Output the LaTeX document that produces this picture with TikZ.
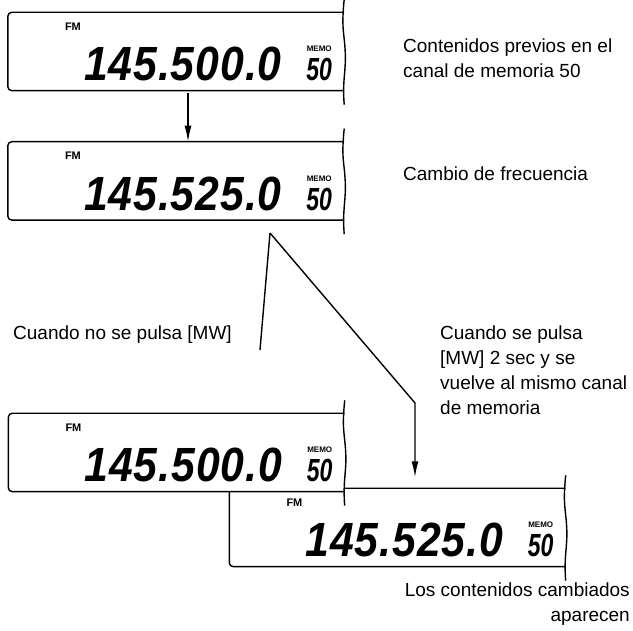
\documentclass[tikz,border=0pt]{standalone}
\usepackage{fontspec}
\setmainfont{Liberation Sans}
\newfontfamily\lcdfont{Liberation Sans}[FakeStretch=0.89, LetterSpace=2]
\newfontfamily\chanfont{Liberation Sans}[FakeStretch=0.72]
\usetikzlibrary{positioning,arrows.meta,calc}
\tikzset{
  panel/.style={rectangle, minimum width=336pt, minimum height=78pt, inner sep=0pt, fill=white},
  frame/.style={line width=1.4pt, draw=black},
  freq/.style={inner sep=0pt, anchor=base west, font=\lcdfont\fontsize{48}{48}\selectfont\bfseries\itshape},
  chan/.style={inner sep=0pt, anchor=base, font=\chanfont\fontsize{32}{32}\selectfont\bfseries\itshape},
  fmtag/.style={inner sep=0pt, anchor=base west, font=\fontsize{11}{11}\selectfont\bfseries},
  memotag/.style={inner sep=0pt, anchor=base, font=\fontsize{8}{8}\selectfont\bfseries},
  note/.style={inner sep=0pt, font=\fontsize{19}{25}\selectfont},
  flow/.style={line width=1.4pt, -{Latex[length=16pt,width=7pt]}},
  branch/.style={line width=1.4pt}
}
% one LCD window: node name, frequency, channel
\newcommand{\lcdpanel}[3]{%
  \draw[frame, rounded corners=4pt] (#1.north east) -- (#1.north west) -- (#1.south west) -- (#1.south east);
  \draw[frame] ($(#1.north east)+(0,13)$) .. controls +(-3,-30) and +(-1,20) .. ($(#1.east)+(1,0)$)
    .. controls +(1,-20) and +(-2,25) .. ($(#1.south east)+(0,-14)$);
  \node[fmtag] (#1-fm) at ($(#1.north west)+(57,-18)$) {FM};
  \node[freq] (#1-freq) at ($(#1.south west)+(76,10)$) {#2};
  \node[memotag] (#1-memo) at ($(#1.south east)+(-25,39)$) {MEMO};
  \node[chan] (#1-ch) at ($(#1.south east)+(-25,10)$) {#3};
}
\begin{document}
\begin{tikzpicture}[x=1pt, y=1pt]
    \useasboundingbox (0,0) rectangle (633,631);

    \node[panel] (memold) at (176,579.5) {};
    \lcdpanel{memold}{145.500.0}{50}
    \node[panel, below=51pt of memold] (memnew) {};
    \lcdpanel{memnew}{145.525.0}{50}

    \draw[flow] ([xshift=12pt,yshift=-2pt]memold.south) -- ([xshift=12pt]memnew.north);

    \node[note, anchor=north west, align=left] (prevtext) at (403,592)
      {Contenidos previos en el\\canal de memoria 50};
    \node[note, anchor=base west] (changetext) at (403,450) {Cambio de frecuencia};

    % the two ways out
    \coordinate (split) at (270,398);
    \coordinate (noend) at (260,281);
    \coordinate (bend) at (415,228);
    \draw[branch] (split) -- (noend);

    \node[note, anchor=base east] (nopress) at (232,291) {Cuando no se pulsa [MW]};
    \node[note, anchor=north west, align=left] (press) at (440,305)
      {Cuando se pulsa\\{}[MW] 2 sec y se\\vuelve al mismo canal\\de memoria};

    \node[panel] (resnew) at (397.5,103.5) {};
    \lcdpanel{resnew}{145.525.0}{50}
    \node[panel] (resold) at (176.5,178.5) {};
    \lcdpanel{resold}{145.500.0}{50}

    \draw[flow, shorten >=11pt] (split) -- (bend) -- (bend |- resnew.north);

    \node[note, anchor=north east, align=right] (showtext) at (630,48)
      {Los contenidos cambiados\\aparecen};
\end{tikzpicture}
\end{document}
